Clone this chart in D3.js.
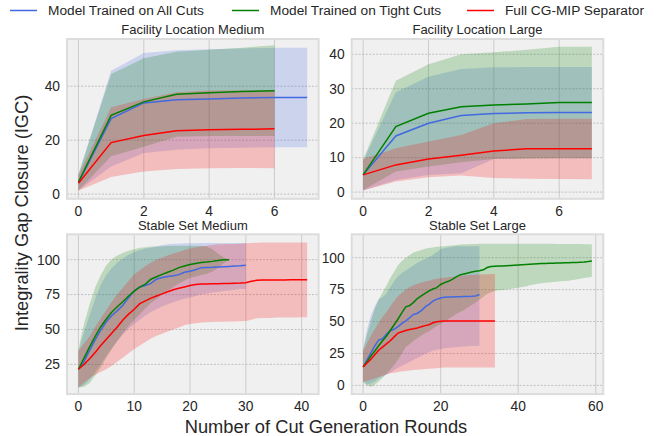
<!DOCTYPE html>
<html>
<head>
<meta charset="utf-8">
<script src="https://cdn.jsdelivr.net/npm/d3@7"></script>
<style>
  body { margin: 0; background: #fff; }
  svg { display: block; font-family: "Liberation Sans", Arial, sans-serif; }
</style>
</head>
<body>
<div id="chart"></div>
<script>
var width = 656,
    height = 436;

// series names and colours
var seriesNames = ["Model Trained on All Cuts", "Model Trained on Tight Cuts", "Full CG-MIP Separator"];
var seriesColors = ["royalblue", "green", "red"];

// Facility Location Medium (x = round index)
var flmBlueMean = [4.2, 28, 33.8, 35, 35.3, 35.6, 35.8, 35.8];
var flmBlueLo = [1.3, 10.2, 15.2, 16.4, 17, 17.2, 17.4, 17.4];
var flmBlueHi = [7, 45.7, 52.3, 53.3, 53.7, 54, 54.3, 54.3];
var flmGreenMean = [4.5, 29.2, 34.2, 37, 37.6, 38, 38.3];
var flmGreenLo = [1.3, 14, 17.6, 21.3, 21.5, 21.5, 21.5];
var flmGreenHi = [7.5, 44.5, 50.4, 52.8, 53.5, 54.3, 55.2];
var flmRedMean = [4, 19.1, 21.7, 23.5, 23.9, 24, 24.2];
var flmRedLo = [1.2, 6.3, 8.4, 9.3, 9.6, 9.7, 9.6];
var flmRedHi = [7, 32.2, 35.3, 37.8, 38.4, 38.5, 38.5];

// Facility Location Large
var fllBlueMean = [5, 16.3, 20, 22.2, 22.8, 23, 23.1, 23.1];
var fllBlueLo = [0.5, 3.5, 5.0, 5.5, 9.6, 9.8, 9.8, 9.8];
var fllBlueHi = [9, 29, 33.5, 35.7, 36.2, 36.3, 36.3, 36.3];
var fllGreenMean = [5, 19, 22.9, 24.8, 25.3, 25.6, 26, 26];
var fllGreenLo = [0.6, 6, 7.4, 8.7, 9.6, 9.7, 9.8, 9.8];
var fllGreenHi = [9.4, 32.3, 37.1, 40, 40.6, 41.3, 42.2, 42.2];
var fllRedMean = [5, 7.9, 9.6, 10.7, 11.9, 12.6, 12.6, 12.6];
var fllRedLo = [0.5, 3.1, 4.3, 4.8, 4.1, 3.9, 3.8, 3.7];
var fllRedHi = [9.6, 12.7, 14.7, 16.6, 20, 21.2, 21.3, 21.3];

// Stable Set Medium
var ssmBlueMean = [21.5, 27, 35, 42.5, 49.5, 55.5, 60, 63.5, 67.5, 72.8, 77.7, 80.5, 81.5, 83, 86, 87.3, 88, 88.5, 89.3, 91, 91.8, 92.8, 94.3, 94.5, 94.6, 94.8, 95, 95.2, 95.4, 95.6, 96];
var ssmBlueLo = [8.5, 10, 14, 19.5, 25, 31, 37, 42, 46.5, 50.5, 54, 57, 60, 62.5, 64.5, 66.5, 68, 69.5, 71, 72, 73, 74, 75, 75.8, 76.5, 77, 77.5, 78, 78.5, 79, 79];
var ssmBlueHi = [34, 48, 60, 72, 82, 89, 94, 98, 101, 103.5, 105.5, 107, 108, 108.5, 109.5, 110.5, 111, 111.5, 111.5, 111.7, 111.8, 111.8, 111.9, 112, 112, 112, 112, 112, 112, 112, 112];
var ssmGreenMean = [21.5, 29.5, 37.5, 45, 52, 57.5, 62.5, 66.5, 70, 74, 77.5, 80.3, 82.5, 86, 87.8, 89.5, 91, 92.5, 94.3, 95.5, 96.5, 97.3, 98, 98.3, 98.8, 99.5, 100, 100];
var ssmGreenLo = [8.5, 9, 11.5, 17, 23, 30, 36, 42, 47.5, 52.5, 57, 61, 65, 69, 72, 75, 78, 80.5, 83, 85, 87, 88, 89, 90, 91.5, 94, 97.5, 100];
var ssmGreenHi = [36, 54, 68, 80, 89, 96, 100.5, 103, 105, 106.5, 107.5, 108.5, 109, 109.5, 109.5, 109.7, 109.8, 110, 110, 110, 110, 110, 110, 109.5, 107.5, 104.5, 101.5, 100];
var ssmRedMean = [21.5, 25, 29, 33.5, 38.5, 43, 47.5, 52, 57, 61, 64.5, 68.5, 70.5, 72.5, 74, 75.5, 77, 78.5, 79.5, 80.5, 81.5, 82.3, 82.5, 82.6, 82.7, 82.8, 82.9, 83, 83.2, 83.3, 83.5, 84.5, 85.3, 85.4, 85.5, 85.5, 85.5, 85.5, 85.6, 85.6, 85.7, 85.7];
var ssmRedLo = [8.5, 12, 15, 17.5, 19.5, 21.5, 24, 27, 30, 33, 36, 38.5, 41, 43.5, 45.5, 47, 48.5, 50, 51.5, 53, 54, 54.5, 55, 55.2, 55.4, 55.5, 55.6, 55.7, 55.8, 55.9, 56, 57, 58, 58.2, 58.3, 58.4, 58.5, 58.5, 58.6, 58.6, 58.7, 58.7];
var ssmRedHi = [34.5, 40, 45, 52, 58, 64, 70, 75.5, 80, 85, 89.5, 92.5, 95.5, 98, 100, 101.5, 103, 104.5, 105.5, 107, 108, 109, 109.5, 110, 110.5, 111, 111, 111.2, 111.3, 111.5, 111.7, 112, 112.2, 112.3, 112.4, 112.4, 112.4, 112.4, 112.4, 112.4, 112.4, 112.4];

// Stable Set Large
var sslBlueMean = [14.5, 20, 25.5, 31, 35.5, 36.5, 40, 43, 44, 46, 48.5, 50.5, 53, 55.5, 56.5, 58.5, 61.5, 63.5, 66, 67.5, 68.5, 69, 69.2, 69.3, 69.4, 69.5, 69.6, 69.7, 69.8, 70, 71.2];
var sslBlueLo = [3, 1, 1.5, 3, 5.5, 7, 8.5, 10, 12, 13.8, 15.3, 16.8, 18.5, 20, 21.5, 23, 24.5, 26, 27.2, 28, 28.6, 29, 29.4, 29.7, 30, 30.2, 30.4, 30.6, 30.8, 31, 31.1];
var sslBlueHi = [28, 44, 55, 62, 67.5, 69, 72, 77, 81.5, 85.5, 88, 90, 92, 94, 96, 97.5, 99, 100.5, 102, 104.5, 106.5, 107.5, 108, 108.5, 109, 109, 109, 109, 109, 109, 109];
var sslGreenMean = [14.5, 18.5, 23, 27, 31, 35, 38.5, 43, 47.5, 52, 57, 61.5, 62.5, 65, 68, 70, 72, 74, 75.5, 76.5, 79, 80.5, 81.5, 83, 85, 86.5, 87.3, 88, 88.8, 89.3, 89.7, 90.5, 92.3, 93, 93.2, 93.4, 93.5, 93.7, 93.9, 94.1, 94.3, 94.5, 94.7, 94.9, 95.1, 95.3, 95.4, 95.5, 95.6, 95.7, 95.8, 95.9, 96, 96.1, 96.2, 96.3, 96.5, 96.7, 97, 97.4];
var sslGreenLo = [2.5, 0, -1, 0.5, 3, 6, 9, 12.5, 16, 20, 25, 30, 32.5, 35, 37, 39, 41, 42.5, 44.5, 46.5, 48, 50, 52, 54, 56, 57.5, 59, 61, 63, 65, 67, 69.5, 71.5, 73, 74, 74.5, 74.7, 75, 75.5, 76, 76.5, 77, 77.5, 78.5, 79, 79.5, 80, 80.3, 80.6, 80.9, 81.2, 81.5, 81.8, 82, 82.5, 83, 83.5, 84, 84.5, 85];
var sslGreenHi = [28, 40, 50, 60, 67, 73, 78, 84, 89, 94, 97.5, 100, 102, 104, 105, 106, 107, 107.5, 108, 108.5, 108.8, 109, 109.3, 109.6, 110, 110.3, 110.5, 110.6, 110.7, 110.8, 110.9, 111, 111, 111, 111, 111, 111, 111, 111, 111, 111, 111, 111, 111, 111, 111, 111, 110.9, 110.9, 110.9, 110.8, 110.8, 110.8, 110.8, 110.7, 110.7, 110.7, 110.6, 110.6, 110.5];
var sslRedMean = [14.5, 17.5, 20.5, 24, 27.5, 30, 32.5, 35, 38, 41, 42, 43, 43.8, 44.3, 45, 46, 46.8, 47.5, 49, 49.8, 50.2, 50.4, 50.4, 50.4, 50.4, 50.4, 50.4, 50.4, 50.4, 50.4, 50.4, 50.4, 50.4, 50.4, 50.4];
var sslRedLo = [3, 3.5, 4.5, 5.5, 6.5, 7.5, 8.5, 9.5, 10, 10.5, 11, 11.3, 11.6, 12, 12.3, 12.5, 12.8, 13, 13.3, 13.5, 13.8, 14, 14, 14, 14, 14, 14, 14, 14, 14, 14, 14, 14, 14, 14];
var sslRedHi = [27, 33, 39, 44, 49, 53.5, 57.5, 62, 66, 70, 72.5, 75, 77, 78.5, 79.5, 80.5, 81.3, 82, 83, 83.5, 84, 84.3, 84.6, 85, 85.3, 85.7, 86, 86.3, 86.5, 86.7, 86.9, 87, 87.1, 87.2, 87.3];

// tick labels
var flmXTicks = [0, 2, 4, 6], flmYTicks = [0, 20, 40];
var fllXTicks = [0, 2, 4, 6], fllYTicks = [0, 10, 20, 30, 40];
var ssmXTicks = [0, 10, 20, 30, 40], ssmYTicks = [25, 50, 75, 100];
var sslXTicks = [0, 20, 40, 60], sslYTicks = [0, 25, 50, 75, 100];

var panels = [
  { title: "Facility Location Medium", left: 67, top: 39, xDom: [-0.35, 7.35], yDom: [-1.74, 57.5],
    xTicks: flmXTicks, yTicks: flmYTicks,
    series: [[flmBlueMean, flmBlueLo, flmBlueHi], [flmGreenMean, flmGreenLo, flmGreenHi], [flmRedMean, flmRedLo, flmRedHi]] },
  { title: "Facility Location Large", left: 351.7, top: 39, xDom: [-0.35, 7.35], yDom: [-1.94, 44.43],
    xTicks: fllXTicks, yTicks: fllYTicks,
    series: [[fllBlueMean, fllBlueLo, fllBlueHi], [fllGreenMean, fllGreenLo, fllGreenHi], [fllRedMean, fllRedLo, fllRedHi]] },
  { title: "Stable Set Medium", left: 67, top: 234.3, xDom: [-2.05, 43.05], yDom: [3.7, 118.2],
    xTicks: ssmXTicks, yTicks: ssmYTicks,
    series: [[ssmBlueMean, ssmBlueLo, ssmBlueHi], [ssmGreenMean, ssmGreenLo, ssmGreenHi], [ssmRedMean, ssmRedLo, ssmRedHi]] },
  { title: "Stable Set Large", left: 351.7, top: 234.3, xDom: [-2.95, 61.95], yDom: [-6.8, 118.3],
    xTicks: sslXTicks, yTicks: sslYTicks,
    series: [[sslBlueMean, sslBlueLo, sslBlueHi], [sslGreenMean, sslGreenLo, sslGreenHi], [sslRedMean, sslRedLo, sslRedHi]] }
];

var pw = 251.6, ph = 159.8;

var svg = d3.select("#chart").append("svg")
  .attr("width", width)
  .attr("height", height);

panels.forEach(function(p) {
  var g = svg.append("g")
    .attr("transform", "translate(" + p.left + "," + p.top + ")");

  var x = d3.scaleLinear().domain(p.xDom).range([0, pw]);
  var y = d3.scaleLinear().domain(p.yDom).range([ph, 0]);

  g.append("rect")
    .attr("width", pw).attr("height", ph)
    .attr("fill", "#f0f0f0");

  // grid
  g.selectAll(".vgrid").data(p.xTicks).enter().append("line")
    .attr("x1", d => x(d)).attr("x2", d => x(d))
    .attr("y1", 0).attr("y2", ph)
    .attr("stroke", "#cfcfcf").attr("stroke-width", 1.1);
  g.selectAll(".hgrid").data(p.yTicks).enter().append("line")
    .attr("x1", 0).attr("x2", pw)
    .attr("y1", d => y(d)).attr("y2", d => y(d))
    .attr("stroke", "#b4b4b4").attr("stroke-width", 0.8)
    .attr("stroke-dasharray", "2,1.5");

  var marks = g.append("g");

  // bands then lines, in series order
  p.series.forEach(function(s, i) {
    var area = d3.area()
      .x((d, j) => x(j))
      .y0((d, j) => y(s[1][j]))
      .y1((d, j) => y(s[2][j]));
    marks.append("path")
      .datum(s[0])
      .attr("d", area)
      .attr("fill", seriesColors[i])
      .attr("fill-opacity", 0.21);
  });
  p.series.forEach(function(s, i) {
    var line = d3.line()
      .x((d, j) => x(j))
      .y(d => y(d));
    marks.append("path")
      .datum(s[0])
      .attr("d", line)
      .attr("fill", "none")
      .attr("stroke", seriesColors[i])
      .attr("stroke-width", 1.5);
  });

  // frame
  g.append("rect")
    .attr("width", pw).attr("height", ph)
    .attr("fill", "none")
    .attr("stroke", "#dcdcdc").attr("stroke-width", 2);

  // tick labels
  g.selectAll(".xt").data(p.xTicks).enter().append("text")
    .attr("x", d => x(d)).attr("y", ph + 17)
    .attr("text-anchor", "middle")
    .attr("font-size", 13.8).attr("fill", "#262626")
    .text(d => d);
  g.selectAll(".yt").data(p.yTicks).enter().append("text")
    .attr("x", -7).attr("y", d => y(d)).attr("dy", "0.35em")
    .attr("text-anchor", "end")
    .attr("font-size", 13.8).attr("fill", "#262626")
    .text(d => d);

  g.append("text")
    .attr("x", pw / 2).attr("y", -4.8)
    .attr("text-anchor", "middle")
    .attr("font-size", 13).attr("fill", "#262626")
    .text(p.title);
});

// axis labels
svg.append("text")
  .attr("x", 326).attr("y", 433)
  .attr("text-anchor", "middle")
  .attr("font-size", 18.3).attr("fill", "#262626")
  .text("Number of Cut Generation Rounds");
svg.append("text")
  .attr("transform", "translate(28,213) rotate(-90)")
  .attr("text-anchor", "middle")
  .attr("font-size", 18.3).attr("fill", "#262626")
  .text("Integrality Gap Closure (IGC)");

// legend
var legendX = [10, 232, 467];
var legend = svg.selectAll(".legend").data(seriesNames).enter().append("g")
  .attr("transform", (d, i) => "translate(" + legendX[i] + ",10.5)");
legend.append("line")
  .attr("x1", 0).attr("x2", 27)
  .attr("stroke", (d, i) => seriesColors[i]).attr("stroke-width", 1.5);
legend.append("text")
  .attr("x", 38).attr("y", 4.8)
  .attr("font-size", 13.7).attr("fill", "#262626")
  .text(d => d);
</script>
</body>
</html>
